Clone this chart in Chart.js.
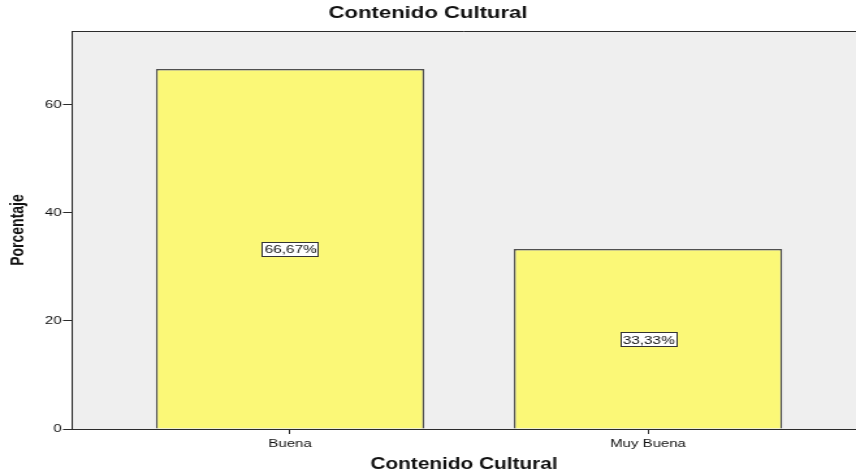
<!DOCTYPE html>
<html>
<head>
<meta charset="utf-8">
<script src="https://cdn.jsdelivr.net/npm/chart.js@4/dist/chart.umd.min.js"></script>
<style>
  html, body { margin: 0; padding: 0; background: #fff; }
</style>
</head>
<body>
<!-- drawn narrow, shown wide: the export this copies is stretched sideways -->
<canvas id="chart" width="658" height="473" style="display:block;width:856px;height:473px"></canvas>
<script>
const categories = ['Buena', 'Muy Buena'];
const percentages = [66.67, 33.33];
const yTicks = [0, 20, 40, 60];
const yMax = 73.7;

const FONT = "'Liberation Sans', Arial, sans-serif";
const INK = '#2b2b2b';

function pctLabel(v) {
  return v.toFixed(2).replace('.', ',') + '%';
}

// grey panel behind the bars plus the frame line along its top
const panel = {
  id: 'panel',
  beforeDraw(chart) {
    const { ctx, chartArea: a } = chart;
    ctx.save();
    ctx.fillStyle = '#efefef';
    ctx.fillRect(a.left, a.top, a.right - a.left, a.bottom - a.top);
    ctx.restore();
  },
  afterDraw(chart) {
    const { ctx, chartArea: a } = chart;
    ctx.save();
    ctx.strokeStyle = INK;
    ctx.lineWidth = 1;
    ctx.beginPath();
    ctx.moveTo(a.left, a.top + 0.5);
    ctx.lineTo(a.right, a.top + 0.5);
    ctx.stroke();
    ctx.restore();
  }
};

// boxed percentage in the middle of each bar
const boxLabels = {
  id: 'boxLabels',
  afterDatasetsDraw(chart) {
    const ctx = chart.ctx;
    const meta = chart.getDatasetMeta(0);
    ctx.save();
    ctx.font = '11.8px ' + FONT;
    ctx.textAlign = 'center';
    ctx.textBaseline = 'middle';
    meta.data.forEach((bar, i) => {
      const { x, y, base } = bar.getProps(['x', 'y', 'base'], true);
      const cy = (y + base) / 2;
      const text = pctLabel(percentages[i]);
      const w = Math.round(ctx.measureText(text).width + 3);
      const h = 14;
      const left = Math.round(x - w / 2);
      const top = Math.round(cy - h / 2);
      ctx.fillStyle = '#fff';
      ctx.fillRect(left, top, w, h);
      ctx.strokeStyle = '#333';
      ctx.lineWidth = 1;
      ctx.strokeRect(left + 0.5, top + 0.5, w, h);
      ctx.fillStyle = '#111';
      ctx.fillText(text, x + 0.5, cy + 1.5);
    });
    ctx.restore();
  }
};

new Chart(document.getElementById('chart'), {
  type: 'bar',
  data: {
    datasets: [{
      data: percentages.map((v, i) => ({ x: i, y: v })),
      backgroundColor: '#fbf877',
      borderColor: '#505050',
      borderWidth: 1.5,
      borderSkipped: 'bottom',
      barPercentage: 0.75,
      categoryPercentage: 1
    }]
  },
  options: {
    responsive: false,
    animation: false,
    devicePixelRatio: 1,
    layout: { padding: 0 },
    plugins: {
      legend: { display: false },
      tooltip: { enabled: false },
      title: {
        display: true,
        text: 'Contenido Cultural',
        color: '#111',
        font: { family: FONT, size: 17, weight: 'bold', lineHeight: 1.2 },
        padding: { top: 2.8, bottom: 7.8 }
      }
    },
    scales: {
      x: {
        type: 'linear',
        min: -0.609,
        max: 1.581,
        offset: false,
        afterBuildTicks(scale) {
          scale.ticks = categories.map((c, i) => ({ value: i }));
        },
        afterFit(scale) {
          scale.height = 44;
        },
        ticks: {
          autoSkip: false,
          maxRotation: 0,
          padding: 3,
          color: '#111',
          font: { family: FONT, size: 11.5 },
          callback: (v) => categories[v]
        },
        grid: {
          offset: false,
          drawOnChartArea: false,
          drawTicks: true,
          tickLength: 5,
          color: INK
        },
        border: { display: true, color: INK, width: 1 },
        title: {
          display: true,
          text: 'Contenido Cultural',
          color: '#111',
          font: { family: FONT, size: 16, weight: 'bold', lineHeight: 1 },
          padding: { top: 0, bottom: 0 }
        }
      },
      y: {
        min: 0,
        max: yMax,
        afterBuildTicks(scale) {
          scale.ticks = yTicks.map(v => ({ value: v }));
        },
        afterFit(scale) {
          scale.width = 55.4;
        },
        ticks: {
          padding: 1,
          color: '#111',
          font: { family: FONT, size: 11.5 }
        },
        grid: {
          drawOnChartArea: false,
          drawTicks: true,
          tickLength: 7,
          color: INK
        },
        border: { display: true, color: INK, width: 1 },
        title: {
          display: true,
          text: 'Porcentaje',
          color: '#111',
          font: { family: FONT, size: 14, weight: 'bold', lineHeight: 1 },
          padding: { top: 7.6, bottom: 0 }
        }
      }
    }
  },
  plugins: [panel, boxLabels]
});
</script>
</body>
</html>
